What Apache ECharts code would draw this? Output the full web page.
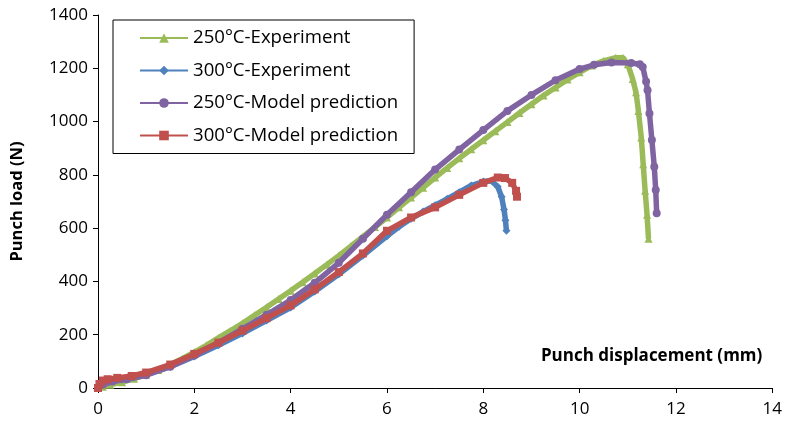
<!DOCTYPE html>
<html>
<head>
<meta charset="utf-8">
<script src="https://cdn.jsdelivr.net/npm/echarts@6/dist/echarts.min.js"></script>
<style>html,body{margin:0;padding:0;background:#fff}#c{width:785px;height:425px}</style>
</head>
<body>
<div id="c"></div>
<script>
var xTicks = [0, 2, 4, 6, 8, 10, 12, 14];
var yTicks = [0, 200, 400, 600, 800, 1000, 1200, 1400];
var seriesNames = ['250°C-Experiment', '300°C-Experiment', '250°C-Model prediction', '300°C-Model prediction'];

var exp250X = [0,0.1,0.25,0.5,0.75,1.0,1.25,1.5,1.75,2.0,2.25,2.5,2.75,3.0,3.25,3.5,3.75,4.0,4.25,4.5,4.75,5.0,5.25,5.5,5.75,6.0,6.25,6.5,6.75,7.0,7.25,7.5,7.75,8.0,8.25,8.5,8.75,9.0,9.25,9.5,9.75,10.0,10.25,10.5,10.75,10.9,11.0,11.1,11.17,11.22,11.28,11.32,11.36,11.4,11.43];
var exp250Y = [0,5,12,22,35,50,68,88,110,135,160,188,215,243,273,303,334,365,397,430,463,497,532,568,604,640,678,715,752,790,826,862,896,930,964,998,1032,1065,1098,1128,1158,1185,1210,1228,1240,1240,1215,1160,1110,1040,940,840,740,650,560];

var exp300X = [0,0.05,0.15,0.3,0.5,0.75,1.0,1.5,2.0,2.5,3.0,3.5,4.0,4.5,5.0,5.5,6.0,6.25,6.5,6.75,7.0,7.25,7.5,7.75,8.0,8.17,8.3,8.38,8.43,8.46,8.48];
var exp300Y = [0,10,20,25,32,40,50,80,118,160,205,253,302,362,427,497,570,605,635,662,686,710,735,760,775,778,755,718,670,630,590];

var mod250X = [0,0.1,0.3,0.6,1.0,1.5,2.0,2.5,3.0,3.5,4.0,4.5,5.0,5.5,6.0,6.5,7.0,7.5,8.0,8.5,9.0,9.5,10.0,10.3,10.66,11.07,11.25,11.31,11.38,11.41,11.45,11.5,11.55,11.58,11.6];
var mod250Y = [0,12,24,33,48,80,122,170,222,275,330,395,470,560,650,735,820,895,968,1040,1100,1155,1197,1213,1222,1220,1215,1205,1150,1118,1030,931,830,743,656];

var mod300X = [0,0.03,0.1,0.2,0.4,0.7,1.0,1.5,2.0,2.5,3.0,3.5,4.0,4.5,5.0,5.5,6.0,6.5,7.0,7.5,8.0,8.3,8.45,8.6,8.68,8.7];
var mod300Y = [0,15,28,33,38,45,58,88,128,170,215,262,310,370,435,505,590,640,678,725,770,790,788,770,740,718];

function pairs(xs, ys) { return xs.map(function (x, i) { return [x, ys[i]]; }); }

var colors = ['#9BBB59', '#4F81BD', '#8064A2', '#C0504D'];
var symbols = ['triangle', 'diamond', 'circle', 'rect'];
var datasets = [pairs(exp250X, exp250Y), pairs(exp300X, exp300Y), pairs(mod250X, mod250Y), pairs(mod300X, mod300Y)];
var sizes = [8, 8, 8, 8];

var chart = echarts.init(document.getElementById('c'), null, {renderer: 'canvas'});
var font = '"Open Sans", "Noto Sans", sans-serif';
chart.setOption({
  animation: false,
  backgroundColor: '#fff',
  textStyle: {fontFamily: font},
  grid: {left: 98, right: 9, top: 15, bottom: 37, containLabel: false},
  legend: {
    orient: 'vertical',
    left: 113, top: 20,
    data: seriesNames,
    borderColor: '#000', borderWidth: 1,
    padding: [8, 16, 8, 26],
    itemWidth: 48, itemHeight: 12, itemGap: 12.5,
    textStyle: {fontSize: 18.6, color: '#000', fontFamily: font, lineHeight: 20}
  },
  xAxis: {
    type: 'value', min: 0, max: 14, interval: 2,
    axisLine: {show: true, lineStyle: {color: '#000', width: 1}},
    axisTick: {show: true, length: 5, lineStyle: {color: '#000'}},
    splitLine: {show: false},
    axisLabel: {fontSize: 17, color: '#000', margin: 13, formatter: function (v) { return xTicks.indexOf(v) >= 0 ? String(v) : ''; }},
    name: 'Punch displacement (mm)', nameLocation: 'end', nameGap: -10,
    nameTextStyle: {fontSize: 17, fontWeight: 'bold', color: '#000', align: 'right', verticalAlign: 'bottom', padding: [0, 0, 23, 0]}
  },
  yAxis: {
    type: 'value', min: 0, max: 1400, interval: 200,
    axisLine: {show: true, lineStyle: {color: '#000', width: 1}},
    axisTick: {show: true, length: 5, lineStyle: {color: '#000'}},
    splitLine: {show: false},
    axisLabel: {fontSize: 17, color: '#000', margin: 10, formatter: function (v) { return yTicks.indexOf(v) >= 0 ? String(v) : ''; }},
    name: 'Punch load (N)', nameLocation: 'middle', nameRotate: 90, nameGap: 72,
    nameTextStyle: {fontSize: 16.5, fontWeight: 'bold', color: '#000'}
  },
  series: seriesNames.map(function (n, i) {
    return {
      name: n, type: 'line', data: datasets[i],
      color: colors[i],
      symbol: symbols[i], symbolSize: sizes[i], showSymbol: true,
      lineStyle: {width: 5.5, color: colors[i]},
      itemStyle: {color: colors[i]},
      z: 2 + i
    };
  })
});
</script>
</body>
</html>
